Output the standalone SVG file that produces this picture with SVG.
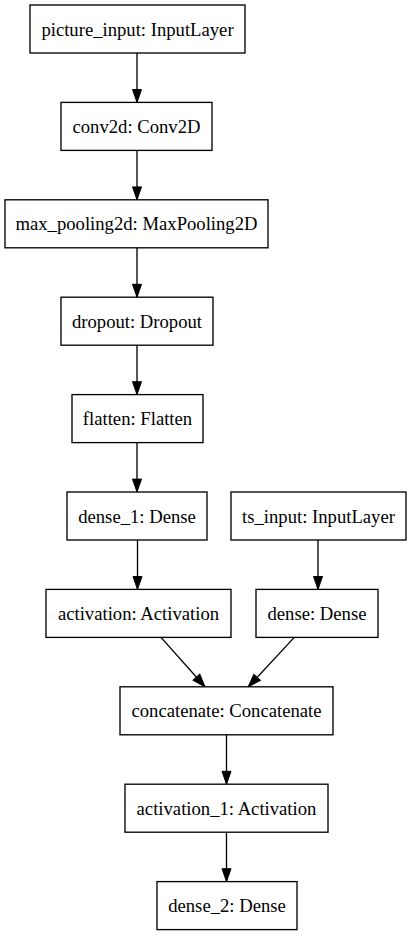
<svg xmlns="http://www.w3.org/2000/svg" width="411" height="936" viewBox="0 0 411 936">
<style>
.node rect{fill:#ffffff;stroke:#000000;stroke-width:1.33}
.node text{font-family:"Liberation Serif","Times New Roman",serif;font-size:18.67px;fill:#000000;text-anchor:middle}
.edge{stroke:#000000;stroke-width:1.33;fill:none;marker-end:url(#ah)}
</style>
<defs>
<marker id="ah" markerUnits="userSpaceOnUse" markerWidth="15" markerHeight="11" refX="13.3" refY="4.67" orient="auto" viewBox="-1 -1 15.3 11.33">
<path d="M0,0 L13.3,4.67 L0,9.33 Z" fill="#000000" stroke="#000000" stroke-width="1"/>
</marker>
</defs>
<rect width="411" height="936" fill="#ffffff"/>
<g id="edges">
<line class="edge" x1="137" y1="53" x2="137" y2="102.4"/>
<line class="edge" x1="137" y1="150.4" x2="137" y2="199.8"/>
<line class="edge" x1="137" y1="247.8" x2="137" y2="297.2"/>
<line class="edge" x1="137" y1="345.2" x2="137" y2="394.6"/>
<line class="edge" x1="137" y1="442.6" x2="137" y2="492"/>
<line class="edge" x1="137.5" y1="540" x2="137.5" y2="589.4"/>
<line class="edge" x1="318" y1="540" x2="318" y2="589.4"/>
<line class="edge" x1="161" y1="637.4" x2="205" y2="686.8"/>
<line class="edge" x1="294.3" y1="637.4" x2="248.3" y2="686.8"/>
<line class="edge" x1="226.5" y1="734.8" x2="226.5" y2="784.2"/>
<line class="edge" x1="226.5" y1="832.2" x2="226.5" y2="881.6"/>
</g>
<g id="picture_input" class="node"><rect x="30" y="5" width="215" height="48"/><text x="137.5" y="35.5">picture_input: InputLayer</text></g>
<g id="conv2d" class="node"><rect x="61" y="102.4" width="151" height="48"/><text x="136.5" y="132.9">conv2d: Conv2D</text></g>
<g id="max_pooling2d" class="node"><rect x="5" y="199.8" width="263" height="48"/><text x="136.5" y="230.3">max_pooling2d: MaxPooling2D</text></g>
<g id="dropout" class="node"><rect x="61" y="297.2" width="152" height="48"/><text x="137" y="327.7">dropout: Dropout</text></g>
<g id="flatten" class="node"><rect x="72" y="394.6" width="131" height="48"/><text x="137.5" y="425.1">flatten: Flatten</text></g>
<g id="dense_1" class="node"><rect x="67" y="492" width="140" height="48"/><text x="137" y="522.5">dense_1: Dense</text></g>
<g id="ts_input" class="node"><rect x="231" y="492" width="175" height="48"/><text x="318.5" y="522.5">ts_input: InputLayer</text></g>
<g id="activation" class="node"><rect x="46" y="589.4" width="185" height="48"/><text x="138.5" y="619.9">activation: Activation</text></g>
<g id="dense" class="node"><rect x="256" y="589.4" width="122" height="48"/><text x="317" y="619.9">dense: Dense</text></g>
<g id="concatenate" class="node"><rect x="120" y="686.8" width="213" height="48"/><text x="226.5" y="717.3">concatenate: Concatenate</text></g>
<g id="activation_1" class="node"><rect x="125" y="784.2" width="203" height="48"/><text x="226.5" y="814.7">activation_1: Activation</text></g>
<g id="dense_2" class="node"><rect x="157" y="881.6" width="140" height="48"/><text x="227" y="912.1">dense_2: Dense</text></g>
</svg>
